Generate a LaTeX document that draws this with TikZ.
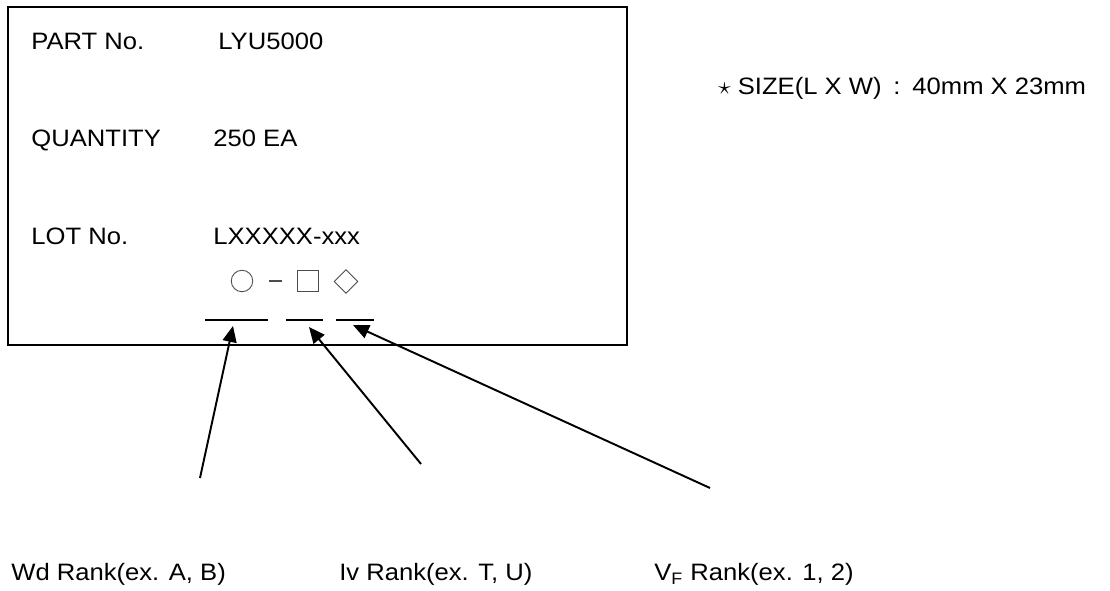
\documentclass[tikz,border=0pt]{standalone}
\usepackage{fontspec}
\setmainfont[FakeStretch=1.08]{Liberation Sans}
\usetikzlibrary{positioning,arrows.meta,shapes.geometric}

\tikzset{
    txt/.style={anchor=base west, inner sep=0pt, font=\fontsize{13.5}{16}\selectfont},
    symbol/.style={draw=black!70, line width=0.5pt, inner sep=0pt},
    pointer/.style={line width=1.1pt, -{Triangle[length=0.32cm, width=0.28cm]}}
}

\begin{document}
\begin{tikzpicture}[x=0.02cm, y=-0.02cm]
        \useasboundingbox (0, 0) rectangle (1110, 591);
        \fill[white] (0, 0) rectangle (1110, 591);

        \draw[line width=1.2pt] (8, 7) rectangle (627, 345);

        \node[txt] (part) at (31, 50) {PART No.};
        \node[txt] (partval) at (218, 50) {LYU5000};
        \node[txt] (qty) at (31, 147) {QUANTITY};
        \node[txt] (qtyval) at (213, 147) {250 EA};
        \node[txt] (lot) at (31, 245) {LOT No.};
        \node[txt] (lotval) at (213, 245) {LXXXXX-xxx};

        \node[symbol, circle, minimum size=0.43cm] (wd) at (242, 281) {};
        \draw[black!70, line width=0.6pt] (269, 281) -- (282, 281);
        \node[symbol, rectangle, minimum size=0.42cm] (iv) at (307.5, 281) {};
        \node[symbol, diamond, shape aspect=1, minimum size=0.48cm] (vf) at (346, 281.5) {};

        \foreach \a/\b in {205/268, 286/323, 336/374} {
            \draw[line width=1.1pt] (\a, 320) -- (\b, 320);
        }

        \coordinate (wdtip) at (233, 326);
        \coordinate (ivtip) at (309, 327);
        \coordinate (vftip) at (353, 325);
        \coordinate (wdtail) at (200, 478);
        \coordinate (ivtail) at (421, 464);
        \coordinate (vftail) at (710, 488);

        \draw[pointer] (wdtail) -- (wdtip);
        \draw[pointer] (ivtail) -- (ivtip);
        \draw[pointer] (vftail) -- (vftip);

        \node[txt] (wdlabel) at (11, 581) {Wd Rank(ex. A, B)};
        \node[txt] (ivlabel) at (339, 581) {Iv Rank(ex. T, U)};
        \node[txt] (vflabel) at (654, 581) {V\textsubscript{F} Rank(ex. 1, 2)};

        \node[txt] (size) at (718, 95) {$\star$ SIZE(L X W)\enspace:\enspace40mm X 23mm};
    \end{tikzpicture}
\end{document}
